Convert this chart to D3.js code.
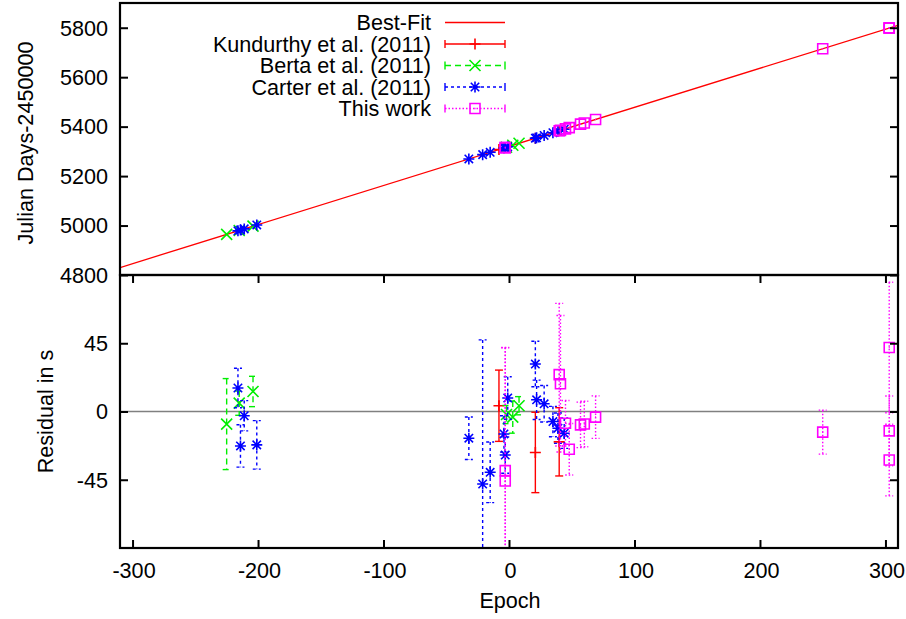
<!DOCTYPE html>
<html><head><meta charset="utf-8">
<script src="https://cdn.jsdelivr.net/npm/d3@7"></script>
<style>
body{margin:0;background:#fff;}
text{font-family:"Liberation Sans",Arial,Helvetica,sans-serif;fill:#000;}
</style>
</head><body>
<svg id="chart" width="906" height="619"></svg>
<script>
// ---- data ----
const xTicks = [-300, -200, -100, 0, 100, 200, 300];
const topTicks = [4800, 5000, 5200, 5400, 5600, 5800];
const botTicks = [-45, 0, 45];

const fitEpoch = [-310, 310];
const fitJD = [4830.1, 5809.9];

const kundEpoch = [-8, 21, 40];
const kundJD = [5307.4, 5353.2, 5383.2];
const kundRes = [3.8, -27, -20];
const kundErr = [23.5, 26.5, 22.5];

const bertaEpoch = [-225, -215, -204, -2, 3, 8];
const bertaJD = [4964.4, 4980.2, 4997.6, 5316.8, 5324.7, 5332.6];
const bertaRes = [-8.3, 5.5, 13.2, -2, -3.7, 3.8];
const bertaErr = [30, 8, 10, 6, 10.6, 6];

const carterEpoch = [-216, -214, -211, -201, -32, -21, -15, -4, -3, -1, 21, 22, 28, 35, 39, 44];
const carterJD = [4978.6, 4981.8, 4986.5, 5002.3, 5269.4, 5286.8, 5296.3, 5313.7, 5315.3, 5318.4, 5353.2, 5354.8, 5364.3, 5375.3, 5381.6, 5389.5];
const carterRes = [15.5, -22.7, -2.8, -22, -17.6, -47.8, -40.1, -14.8, -28.7, 8.9, 31.3, 7.7, 5.1, -6.6, -11, -14.3];
const carterErr = [13, 14, 10, 16, 14, 95, 20, 12, 12, 14, 15, 13, 12, 10, 10, 10];

const workEpoch = [-3, -3, 40, 41, 45, 48, 57, 60, 69, 250, 303, 303, 303];
const workJD = [5315.3, 5315.3, 5383.2, 5384.8, 5391.1, 5395.9, 5410.1, 5414.8, 5429.0, 5715.1, 5798.9, 5798.9, 5798.9];
const workRes = [-39, -45.8, 24.3, 18.3, -7.7, -24.9, -8.8, -8.2, -3.7, -13.6, 42.2, -12.8, -32];
const workErr = [81, 88, 47, 45, 15, 17, 15, 15, 14, 14.5, 43, 23, 23.6];

const legendLabels = ["Best-Fit", "Kundurthy et al. (2011)", "Berta et al. (2011)", "Carter et al. (2011)", "This work"];

// ---- layout ----
const svg = d3.select("#chart");
const L = 120, R = 898, T = 3, M = 275, B = 548;
const x = d3.scaleLinear().domain([-310, 310]).range([L, R]);
const yTop = d3.scaleLinear().domain([4800, 5900]).range([M, T]);
const yBot = d3.scaleLinear().domain([-90, 90]).range([B, M]);
const FS = 21.6;

const defs = svg.append("defs");
defs.append("clipPath").attr("id", "clipTop").append("rect").attr("x", L).attr("y", T).attr("width", R - L).attr("height", M - T);
defs.append("clipPath").attr("id", "clipBot").append("rect").attr("x", L).attr("y", M).attr("width", R - L).attr("height", B - M);

const series = [
  {name: legendLabels[1], color: "#ff0000", dash: null, marker: "plus", ep: kundEpoch, jd: kundJD, res: kundRes, err: kundErr},
  {name: legendLabels[2], color: "#00ee00", dash: "6,4", marker: "cross", ep: bertaEpoch, jd: bertaJD, res: bertaRes, err: bertaErr},
  {name: legendLabels[3], color: "#0000ff", dash: "3,3", marker: "star", ep: carterEpoch, jd: carterJD, res: carterRes, err: carterErr},
  {name: legendLabels[4], color: "#ff00ff", dash: "1.5,2", marker: "square", ep: workEpoch, jd: workJD, res: workRes, err: workErr}
];

function markerPath(type) {
  const s = 5.5;
  if (type === "plus") return `M${-s},0H${s}M0,${-s}V${s}`;
  if (type === "cross") return `M${-s},${-s}L${s},${s}M${-s},${s}L${s},${-s}`;
  if (type === "star") return `M${-s},0H${s}M0,${-s}V${s}M${-4.2},${-4.2}L4.2,4.2M${-4.2},4.2L4.2,${-4.2}`;
  return `M-5,-5H5V5H-5ZM-0.5,0H0.5`;
}

const gTop = svg.append("g");
const gBot = svg.append("g");

// zero line
gBot.append("line").attr("x1", L).attr("x2", R).attr("y1", yBot(0)).attr("y2", yBot(0))
  .attr("stroke", "#808080").attr("stroke-width", 1.5);

// best fit line (top panel)
const lineGen = d3.line().x(d => x(d[0])).y(d => yTop(d[1]));
gTop.append("path").attr("clip-path", "url(#clipTop)")
  .attr("d", lineGen(fitEpoch.map((e, i) => [e, fitJD[i]])))
  .attr("fill", "none").attr("stroke", "#ff0000").attr("stroke-width", 1.3);

// series
series.forEach(s => {
  const pts = s.ep.map((e, i) => ({e, jd: s.jd[i], r: s.res[i], err: s.err[i]}));
  gTop.append("g").attr("clip-path", "url(#clipTop)").selectAll("path").data(pts).join("path")
    .attr("transform", d => `translate(${x(d.e)},${yTop(d.jd)})`)
    .attr("d", markerPath(s.marker)).attr("fill", "none").attr("stroke", s.color).attr("stroke-width", 1.6);
  const gb = gBot.append("g").attr("clip-path", "url(#clipBot)");
  gb.selectAll("line.eb").data(pts).join("line").attr("class", "eb")
    .attr("x1", d => x(d.e)).attr("x2", d => x(d.e))
    .attr("y1", d => yBot(d.r + d.err)).attr("y2", d => yBot(d.r - d.err))
    .attr("stroke", s.color).attr("stroke-width", 1.4).attr("stroke-dasharray", s.dash);
  ["u", "d"].forEach(k => {
    gb.selectAll("line.cap" + k).data(pts).join("line").attr("class", "cap" + k)
      .attr("x1", d => x(d.e) - 4).attr("x2", d => x(d.e) + 4)
      .attr("y1", d => yBot(k === "u" ? d.r + d.err : d.r - d.err))
      .attr("y2", d => yBot(k === "u" ? d.r + d.err : d.r - d.err))
      .attr("stroke", s.color).attr("stroke-width", 1.4).attr("stroke-dasharray", s.dash);
  });
  gb.selectAll("path").data(pts).join("path")
    .attr("transform", d => `translate(${x(d.e)},${yBot(d.r)})`)
    .attr("d", markerPath(s.marker)).attr("fill", "none").attr("stroke", s.color).attr("stroke-width", 1.6);
});

// axes ticks (inward, mirrored)
const tickLen = 8;
const axT = svg.append("g");
axT.append("g").attr("transform", `translate(${L},0)`)
  .call(d3.axisRight(yTop).tickValues(topTicks).tickSize(tickLen).tickFormat(""))
  .call(g => g.select(".domain").remove());
axT.append("g").attr("transform", `translate(${R},0)`)
  .call(d3.axisLeft(yTop).tickValues(topTicks).tickSize(tickLen).tickFormat(""))
  .call(g => g.select(".domain").remove());
axT.append("g").attr("transform", `translate(${L},0)`)
  .call(d3.axisRight(yBot).tickValues(botTicks).tickSize(tickLen).tickFormat(""))
  .call(g => g.select(".domain").remove());
axT.append("g").attr("transform", `translate(${R},0)`)
  .call(d3.axisLeft(yBot).tickValues(botTicks).tickSize(tickLen).tickFormat(""))
  .call(g => g.select(".domain").remove());
axT.append("g").attr("transform", `translate(0,${B})`)
  .call(d3.axisTop(x).tickValues(xTicks).tickSize(tickLen).tickFormat(""))
  .call(g => g.select(".domain").remove());
axT.append("g").attr("transform", `translate(0,${M})`)
  .call(d3.axisBottom(x).tickValues(xTicks).tickSize(tickLen).tickFormat(""))
  .call(g => g.select(".domain").remove());
axT.selectAll(".tick line").attr("stroke", "#000").attr("stroke-width", 2);

// frames
svg.append("rect").attr("x", L).attr("y", T).attr("width", R - L).attr("height", M - T)
  .attr("fill", "none").attr("stroke", "#000").attr("stroke-width", 2.2);
svg.append("rect").attr("x", L).attr("y", M).attr("width", R - L).attr("height", B - M)
  .attr("fill", "none").attr("stroke", "#000").attr("stroke-width", 2.2);

// tick labels
svg.append("g").selectAll("text").data(topTicks).join("text")
  .attr("x", 108).attr("y", d => yTop(d)).attr("dy", "0.36em").attr("text-anchor", "end")
  .attr("font-size", FS).text(d => d);
svg.append("g").selectAll("text").data(botTicks).join("text")
  .attr("x", 108).attr("y", d => yBot(d)).attr("dy", "0.36em").attr("text-anchor", "end")
  .attr("font-size", FS).text(d => d);
svg.append("g").selectAll("text").data(xTicks).join("text")
  .attr("x", d => x(d) + 1.5).attr("y", 577.5).attr("text-anchor", "middle")
  .attr("font-size", FS).text(d => d);

// axis titles
svg.append("text").attr("x", 510).attr("y", 608).attr("text-anchor", "middle").attr("font-size", FS).text("Epoch");
svg.append("text").attr("transform", `translate(33,${(T + M) / 2 + 4}) rotate(-90)`).attr("text-anchor", "middle")
  .attr("font-size", FS).text("Julian Days-2450000");
svg.append("text").attr("transform", `translate(53,${(M + B) / 2}) rotate(-90)`).attr("text-anchor", "middle")
  .attr("font-size", FS).text("Residual in s");

// legend
const legX = 431, legS1 = 445, legS2 = 505, legY0 = 22.5, legDY = 21.5;
const lg = svg.append("g");
const legItems = [{name: legendLabels[0], color: "#ff0000", dash: null, marker: null}].concat(series);
legItems.forEach((s, i) => {
  const yy = legY0 + i * legDY;
  lg.append("text").attr("x", legX).attr("y", yy).attr("dy", "0.36em").attr("text-anchor", "end")
    .attr("font-size", FS).text(s.name);
  lg.append("line").attr("x1", legS1).attr("x2", legS2).attr("y1", yy).attr("y2", yy)
    .attr("stroke", s.color).attr("stroke-width", 1.4).attr("stroke-dasharray", s.dash);
  if (s.marker) {
    [legS1, legS2].forEach(xx => lg.append("line").attr("x1", xx).attr("x2", xx).attr("y1", yy - 4).attr("y2", yy + 4)
      .attr("stroke", s.color).attr("stroke-width", 1.4));
    lg.append("path").attr("transform", `translate(${(legS1 + legS2) / 2},${yy})`)
      .attr("d", markerPath(s.marker)).attr("fill", "none").attr("stroke", s.color).attr("stroke-width", 1.6);
  }
});
</script>
</body></html>
